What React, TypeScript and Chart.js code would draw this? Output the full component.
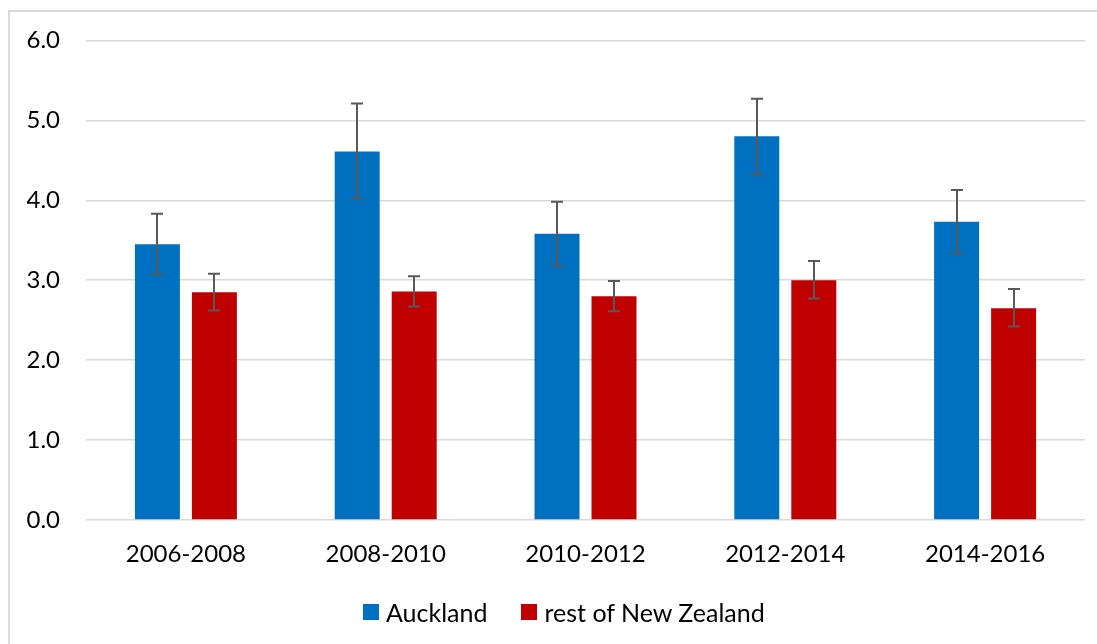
import React, { useEffect, useRef } from "react";
import { Chart, registerables } from "chart.js";

Chart.register(...registerables);

const categories = ["2006-2008", "2008-2010", "2010-2012", "2012-2014", "2014-2016"];
const seriesNames = ["Auckland", "rest of New Zealand"];
const seriesColors = ["#0070C0", "#C00000"];
const aucklandValues = [3.45, 4.61, 3.58, 4.8, 3.73];
const aucklandLow = [3.07, 4.02, 3.18, 4.32, 3.33];
const aucklandHigh = [3.83, 5.21, 3.98, 5.27, 4.13];
const restValues = [2.85, 2.86, 2.8, 3.0, 2.65];
const restLow = [2.62, 2.67, 2.61, 2.77, 2.42];
const restHigh = [3.08, 3.05, 2.99, 3.24, 2.89];
const yMin = 0;
const yMax = 6;
const yStep = 1;

const FONT = "Lato, 'Open Sans', sans-serif";

const errorBars = {
  id: "errorBars",
  afterDatasetsDraw(chart: any) {
    const ctx = chart.ctx;
    const y = chart.scales.y;
    const ranges = [
      [aucklandLow, aucklandHigh],
      [restLow, restHigh],
    ];
    ctx.save();
    ctx.strokeStyle = "#595959";
    ctx.lineWidth = 2;
    chart.data.datasets.forEach((_: any, di: number) => {
      const meta = chart.getDatasetMeta(di);
      meta.data.forEach((bar: any, i: number) => {
        const x = Math.round(bar.x);
        const yl = y.getPixelForValue(ranges[di][0][i]);
        const yh = y.getPixelForValue(ranges[di][1][i]);
        ctx.beginPath();
        ctx.moveTo(x, yl);
        ctx.lineTo(x, yh);
        ctx.moveTo(x - 6, yl);
        ctx.lineTo(x + 6, yl);
        ctx.moveTo(x - 6, yh);
        ctx.lineTo(x + 6, yh);
        ctx.stroke();
      });
    });
    ctx.restore();
  },
};

export default function App() {
  const ref = useRef<HTMLCanvasElement>(null);
  useEffect(() => {
    if (!ref.current) return;
    const chart = new Chart(ref.current, {
      type: "bar",
      data: {
        labels: categories,
        datasets: [
          {
            label: seriesNames[0],
            data: aucklandValues,
            backgroundColor: seriesColors[0],
            categoryPercentage: 0.5706,
            barPercentage: 0.789,
          },
          {
            label: seriesNames[1],
            data: restValues,
            backgroundColor: seriesColors[1],
            categoryPercentage: 0.5706,
            barPercentage: 0.789,
          },
        ],
      },
      plugins: [errorBars],
      options: {
        responsive: false,
        animation: false,
        layout: { padding: { left: 0, right: 12, top: 40, bottom: 59 } },
        plugins: {
          tooltip: { enabled: false },
          legend: { display: false },
        },
        scales: {
          x: {
            grid: { display: false, drawTicks: false },
            border: { display: false },
            ticks: { color: "#000", font: { family: FONT, size: 24 }, padding: 20 },
            afterFit: (s: any) => {
              s.height = 65;
            },
          },
          y: {
            min: yMin,
            max: yMax,
            grid: { color: "#D9D9D9", lineWidth: 1.5, drawTicks: false },
            border: { display: false },
            ticks: {
              stepSize: yStep,
              color: "#000",
              font: { family: FONT, size: 24 },
              padding: 26,
              callback: (v: any) => Number(v).toFixed(1),
            },
            afterFit: (s: any) => {
              s.width = 86;
            },
          },
        },
      },
    });
    return () => chart.destroy();
  }, []);

  return (
    <div
      style={{
        position: "fixed",
        left: 0,
        top: 0,
        width: 1097,
        height: 644,
        overflow: "hidden",
        background: "#fff",
      }}
    >
      <div
        style={{
          position: "absolute",
          left: 8,
          top: 10,
          width: 1200,
          height: 800,
          border: "2px solid #D9D9D9",
          boxSizing: "border-box",
        }}
      />
      <canvas
        ref={ref}
        width={1097}
        height={644}
        style={{ position: "absolute", left: 0, top: 0, width: 1097, height: 644 }}
      />
      <div
        style={{
          position: "absolute",
          left: 363,
          top: 598,
          height: 28,
          display: "flex",
          alignItems: "center",
          fontFamily: FONT,
          fontSize: 25,
          lineHeight: "28px",
          color: "#000",
          whiteSpace: "nowrap",
        }}
      >
        {seriesNames.map((name, i) => (
          <div
            key={name}
            style={{ display: "flex", alignItems: "center", marginRight: i === 0 ? 34 : 0 }}
          >
            <span
              style={{
                display: "inline-block",
                width: 16,
                height: 16,
                background: seriesColors[i],
                marginRight: 7,
              }}
            />
            <span>{name}</span>
          </div>
        ))}
      </div>
    </div>
  );
}
